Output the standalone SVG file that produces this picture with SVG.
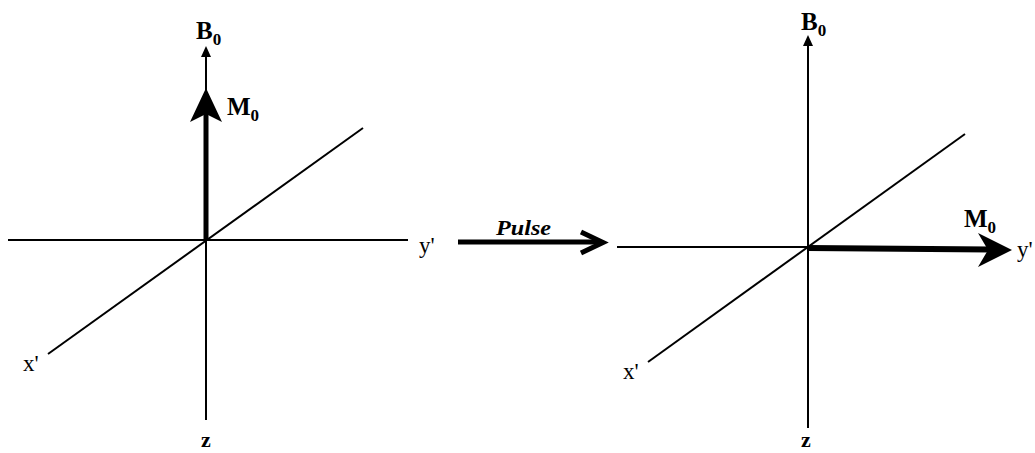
<svg xmlns="http://www.w3.org/2000/svg" width="1035" height="453" viewBox="0 0 1035 453">
<style>
.ax{stroke:#000;stroke-width:2;fill:none}
.thick{stroke:#000;stroke-width:5;fill:none}
.lb{font-family:"Liberation Serif",serif;fill:#000}
.bold{font-weight:bold}
.big{font-size:25px}
.sub{font-size:17px}
.pr{font-size:23px}
.zz{font-size:22px;font-weight:bold}
</style>
<rect width="1035" height="453" fill="#fff"/>
<g id="left-axes">
<line class="ax" x1="206" y1="420" x2="206" y2="52"/>
<path d="M201,57 L206,46 L211,57 Z" fill="#000"/>
<line class="ax" x1="8" y1="240" x2="408" y2="240"/>
<line class="ax" x1="48" y1="354" x2="363" y2="128"/>
<text class="lb bold big" x="196" y="39">B<tspan class="sub" dy="6">0</tspan></text>
<text class="lb pr" x="23" y="371">x'</text>
<text class="lb pr" x="419" y="253">y'</text>
<text class="lb zz" x="201" y="447">z</text>
</g>
<g id="left-M0">
<line class="thick" x1="206" y1="240" x2="206" y2="110"/>
<path d="M206,88 L222,122 L206,114 L190,122 Z" fill="#000"/>
<text class="lb bold big" x="227" y="115">M<tspan class="sub" dy="6">0</tspan></text>
</g>
<g id="connectors">
<line x1="458" y1="242" x2="600" y2="242" stroke="#000" stroke-width="5"/>
<path d="M581,232 L603,242.5 L581,253" fill="none" stroke="#000" stroke-width="5" stroke-linejoin="miter"/>
<text class="lb bold" x="496" y="235" font-size="22" font-style="italic" textLength="55" lengthAdjust="spacingAndGlyphs">Pulse</text>
</g>
<g id="right-axes">
<line class="ax" x1="808" y1="428" x2="808" y2="42"/>
<path d="M803,46 L808,35 L813,46 Z" fill="#000"/>
<line class="ax" x1="617" y1="247" x2="808" y2="247"/>
<line class="ax" x1="648" y1="362" x2="965" y2="134"/>
<text class="lb bold big" x="801" y="30">B<tspan class="sub" dy="6">0</tspan></text>
<text class="lb pr" x="623" y="379">x'</text>
<text class="lb pr" x="1017" y="257">y'</text>
<text class="lb zz" x="801" y="447">z</text>
</g>
<g id="right-M0">
<line x1="808" y1="248" x2="990" y2="249.5" stroke="#000" stroke-width="6"/>
<path d="M1012,250 L978,233 L988,250 L978,267 Z" fill="#000"/>
<text class="lb bold big" x="964" y="227">M<tspan class="sub" dy="6">0</tspan></text>
</g>
</svg>
